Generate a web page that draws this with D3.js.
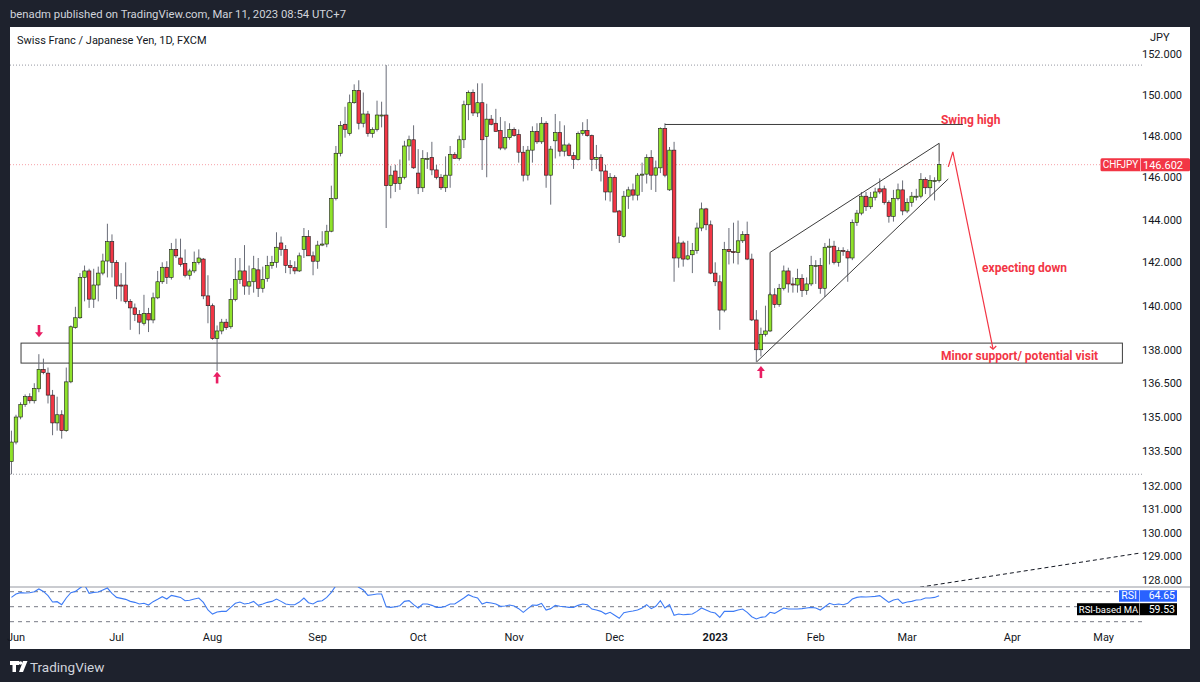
<!DOCTYPE html>
<meta charset="utf-8">
<style>
  body { margin: 0; background: #1e222d; }
  svg { display: block; }
  text { font-family: "Trebuchet MS", Roboto, sans-serif; }
  .wick { stroke: #6a6d78; stroke-width: 1; }
  .body { stroke: #1a1a1a; stroke-width: 0.6; }
  .axis text { font-size: 11px; fill: #131722; }
  .note { font-size: 12px; font-weight: bold; fill: #f23645; }
  .draw { fill: none; stroke: #3c3c3c; stroke-width: 1; }
</style>
<svg width="1200" height="682"></svg>
<script src="https://d3js.org/d3.v7.min.js"></script>
<script>

// daily candles [open, high, low, close], one array per month
var may22 = [[133.05,134.4,132.5,133.9]];
var jun22 = [
  [133.9,135.1,133.8,135.0],[135.0,135.65,134.9,135.55],[135.55,136.0,135.45,135.9],[135.9,136.05,135.6,135.72],
  [135.72,136.5,135.6,136.27],[136.25,137.8,136.1,137.12],[137.12,137.6,136.9,136.97],[136.95,137.2,135.6,135.97],
  [135.97,136.2,134.2,134.74],[134.74,135.9,134.4,135.1],[135.1,135.3,134.05,134.4],[134.4,137.2,134.35,136.56],
  [136.56,139.1,136.5,139.04],[139.0,139.95,138.95,139.45],[139.45,141.5,139.4,141.3],[141.3,141.85,140.2,141.6],
  [141.6,141.7,139.9,140.3],[140.3,141.7,139.9,140.95],[140.95,141.8,140.2,141.5],[141.5,142.4,141.4,142.06],
  [142.06,143.8,141.3,142.96],[142.96,143.3,141.3,142.0]];
var jul22 = [
  [142.0,142.1,140.3,140.9],[140.95,141.5,140.2,140.9],[140.95,142.0,140.1,140.2],[140.2,140.3,138.9,139.9],
  [139.9,140.1,139.3,139.6],[139.6,139.8,138.7,139.25],[139.2,140.5,139.1,139.65],[139.65,139.9,138.8,139.35],
  [139.35,140.6,139.2,140.36],[140.36,141.6,140.3,141.1],[141.1,142.0,141.0,141.77],[141.77,142.05,141.0,141.3],
  [141.3,142.9,141.2,142.6],[142.6,143.1,142.2,142.3],[142.2,143.1,141.8,141.9],[141.95,142.6,141.3,141.4],
  [141.4,141.7,141.2,141.6],[141.6,142.5,141.5,142.0],[142.0,142.6,141.9,142.2],[142.15,142.2,140.3,140.45],
  [140.45,141.4,139.2,140.0]];
var aug22 = [
  [140.0,140.1,138.45,138.5],[138.5,139.1,137.05,138.85],[138.85,139.4,138.7,139.25],[139.25,139.4,138.9,139.0],
  [139.04,140.8,138.95,140.28],[140.28,142.2,140.2,141.2],[141.2,142.2,141.0,141.6],[141.6,142.8,140.5,140.9],
  [140.9,141.85,140.5,141.1],[141.1,142.3,140.6,141.7],[141.65,142.2,140.4,140.8],[140.8,141.8,140.6,141.2],
  [141.25,142.3,141.1,141.85],[141.85,142.3,141.7,142.0],[142.0,143.4,141.75,142.7],[142.9,143.2,142.3,142.6],
  [142.6,142.8,141.5,141.85],[141.85,142.1,141.45,141.75],[141.75,142.05,141.45,141.6],[141.6,142.45,141.55,142.3],
  [142.6,143.6,142.2,143.2],[143.2,143.5,142.3,142.3],[142.3,142.5,141.4,142.05]];
var sep22 = [
  [142.05,143.0,141.7,142.8],[142.8,143.45,142.75,142.85],[142.85,143.75,142.7,143.45],[143.45,145.6,143.4,145.0],
  [145.0,147.5,144.9,147.15],[147.15,148.7,147.0,148.5],[148.55,149.4,147.9,148.3],[148.1,150.0,148.0,149.6],
  [149.6,150.5,149.55,150.2],[150.2,150.7,148.3,148.6],[148.6,150.1,148.4,149.05],[149.05,149.2,147.95,148.1],
  [148.1,148.4,147.9,148.3],[148.3,149.7,148.2,149.0],[149.0,149.65,148.4,149.0],[149.0,151.45,143.6,145.6],
  [145.6,146.55,145.0,146.1],[146.3,146.6,145.3,145.7],[145.7,146.85,145.4,146.0],[146.0,147.75,145.9,147.5],
  [147.5,148.0,146.8,147.8],[147.8,148.5,146.4,146.45]];
var oct22 = [
  [146.2,147.35,145.2,145.5],[145.5,147.3,145.3,146.9],[146.9,147.2,146.4,146.9],[146.95,147.7,146.1,146.35],
  [146.35,146.6,145.9,146.0],[146.0,146.15,145.4,145.5],[145.5,147.0,145.3,146.1],[146.1,147.5,145.5,147.1],
  [147.1,147.2,146.9,146.9],[146.9,148.0,146.8,147.8],[147.8,149.7,147.4,149.5],[149.5,150.2,148.75,150.1],
  [150.1,150.25,148.95,149.1],[149.1,150.55,148.9,149.6],[149.6,150.55,146.35,147.8],[147.95,149.55,146.0,148.8],
  [148.8,149.0,148.5,148.55],[148.6,149.3,148.2,148.2],[148.25,148.9,147.3,147.4],[147.4,148.7,147.3,147.9],
  [147.9,148.6,147.8,148.3]];
var nov22 = [
  [148.3,148.4,147.95,148.0],[148.05,148.3,146.7,147.2],[147.2,147.5,145.8,146.1],[146.1,147.5,145.85,147.3],
  [147.3,148.45,146.7,148.2],[148.2,148.6,147.6,147.7],[147.7,148.9,147.6,148.6],[148.6,148.7,145.5,146.1],
  [146.1,147.5,144.7,147.35],[147.75,149.05,146.9,148.15],[148.15,148.7,147.0,147.25],[147.25,148.5,147.0,147.55],
  [147.55,147.65,147.0,147.05],[147.05,147.2,146.4,146.85],[146.85,148.2,146.8,148.1],[148.1,148.65,148.0,148.25],
  [148.25,148.8,147.95,148.0],[148.0,148.05,146.3,146.85],[146.85,147.55,146.4,146.95],[146.95,147.1,145.8,146.3],
  [146.3,146.6,144.9,145.3],[145.3,146.2,144.85,146.0]];
var dec22 = [
  [146.0,146.1,144.35,144.35],[144.4,144.45,142.9,143.25],[143.2,145.35,143.15,145.1],[145.1,145.55,144.5,145.4],
  [145.4,145.7,144.9,145.15],[145.15,146.2,144.9,146.1],[146.1,146.7,145.3,146.15],[146.15,147.1,145.7,146.95],
  [146.95,147.3,145.4,146.1],[146.1,146.8,145.3,146.45],[146.45,148.4,146.2,148.35],[148.35,148.6,146.0,146.1],
  [145.4,147.45,145.35,147.3],[147.3,147.7,141.1,142.2],[142.2,143.2,141.75,142.9],[142.9,143.0,141.8,142.15],
  [142.15,143.0,142.1,142.3],[142.35,142.9,141.5,142.55],[142.55,143.85,142.4,143.6],[143.6,144.8,143.45,144.5],
  [144.5,144.55,143.5,143.75],[143.75,143.95,141.45,141.5]];
var jan23 = [
  [141.5,142.0,140.9,141.1],[141.1,141.4,138.9,139.8],[139.8,142.95,139.7,142.6],[142.6,143.6,141.9,142.5],
  [142.5,143.85,141.95,142.45],[142.45,143.95,141.9,143.0],[143.0,143.45,142.9,143.3],[143.3,143.9,142.1,142.15],
  [142.15,142.4,139.3,139.35],[139.35,139.8,137.45,138.0],[138.0,139.0,137.7,138.7],[138.7,140.0,138.6,138.85],
  [138.85,140.6,138.8,140.5],[140.5,140.8,139.9,140.05],[140.05,141.0,139.95,140.8],[140.8,141.85,140.7,141.6],
  [141.6,141.75,140.6,141.0],[141.0,141.3,140.6,140.95],[140.95,141.7,140.6,141.25],[141.25,141.45,140.4,140.7],
  [140.7,141.3,140.5,141.0],[141.0,142.3,140.9,141.85]];
var feb23 = [
  [141.85,142.1,141.0,141.85],[141.85,142.2,140.55,140.8],[140.8,142.9,140.4,142.7],[142.7,143.1,141.9,142.75],
  [142.75,143.0,141.9,142.0],[142.0,142.7,141.8,142.55],[142.55,142.7,142.3,142.5],[142.5,142.6,141.1,142.2],
  [142.2,144.0,142.1,143.85],[143.85,144.45,143.7,144.3],[144.3,145.3,144.2,145.1],[145.1,145.3,144.4,144.6],
  [144.6,145.3,144.5,145.05],[145.05,145.5,144.9,145.3],[145.45,145.95,145.2,145.3],[145.45,145.6,144.7,144.8],
  [144.8,144.9,143.85,144.15],[144.15,145.4,143.9,145.0],[145.0,145.7,144.9,145.4],[145.4,145.85,144.2,144.4]];
var mar23 = [
  [144.4,145.0,144.3,144.8],[144.8,145.3,144.6,145.1],[145.1,145.45,144.9,145.1],[145.1,146.2,145.0,145.9],
  [145.9,146.0,145.2,145.5],[145.5,146.1,145.1,145.85],[145.85,146.0,144.9,145.85],[145.85,146.75,145.75,146.602]];

// RSI(14), one value per candle from May 31 2022
var rsi = [
  62.4,66.9,68.7,68.2,68.7,70,73.6,70.4,64.7,56.2,56.7,52.7,61.6,68.7,70.4,74.9,79,67.8,69.1,69.6,72.2,74.9,
  67.8,62.4,61.1,59.8,57.1,55.8,53.6,54.5,52.2,56.7,59.8,63.3,60.2,65.1,63.8,62.4,58,58.5,60.2,61.6,55.8,
  45.6,40.2,42.9,43.8,43.8,49.1,54.5,56.2,53.6,54.5,57.1,51.8,53.6,55.8,57.1,60.2,57.1,53.6,52.7,52.7,56.2,61.6,55.3,
  53.6,57.1,58,62.4,69.1,78,84,85,84,82,75.8,72.2,65.1,66,66.9,66.9,50,49.1,50,
  51.3,57.1,58,52.7,48.3,53.6,53.6,51.8,49.1,49.1,50.5,53.6,53.6,57.6,61.6,66,63.3,61.6,53.6,55.8,54.9,53.6,50.5,50.9,52.2,
  50.9,47.4,42.5,47.4,52.2,51.8,54.5,45.6,47.4,51.8,50.5,50,49.1,49.1,51.8,53.6,52.7,46.9,45.6,43.8,40.2,42.5,38.5,
  34.5,42,43.3,44.2,45.6,48.3,52.7,47.4,50.5,58,48.3,52.7,38.5,40.2,39.3,39.8,40.2,43.8,48.3,45.6,42.9,41.6,
  35.8,43.8,43.8,43.8,45.6,46.9,42.5,36.7,33.6,35.8,36.7,42.5,41.1,44.7,48.3,46.9,46.9,46.9,47.4,48.3,49.1,
  48.3,45.6,50,54.5,52.7,53.6,52.7,54.5,60.2,62.4,63.3,62.9,63.3,63.8,64.7,60.2,55.8,58.9,60.2,54.5,
  56.2,57.1,58.9,59.3,61.6,61.6,62.4,64.65];
var rsiMA = 59.53;

var priceTicks = [152, 150, 148, 146, 144, 142, 140, 138, 136.5, 135, 133.5, 132, 131, 130, 129, 128];
var symbol = "CHFJPY";

var svg = d3.select("svg");
var green = "#8fe22b", red = "#f23645", pink = "#e91e63";

// white chart panel
svg.append("rect").attr("x", 10).attr("y", 27).attr("width", 1180).attr("height", 622).attr("fill", "#fff");

svg.append("text").attr("x", 10).attr("y", 18).attr("fill", "#d1d4dc").style("font-size", "11.3px")
    .text("benadm published on TradingView.com, Mar 11, 2023 08:54 UTC+7");
svg.append("text").attr("x", 17).attr("y", 44).attr("fill", "#131722").style("font-size", "11px")
    .text("Swiss Franc / Japanese Yen, 1D, FXCM");

var bars = [].concat(may22, jun22, jul22, aug22, sep22, oct22, nov22, dec22, jan23, feb23, mar23)
    .map(function(d, i) { return {k: i, o: d[0], h: d[1], l: d[2], c: d[3], rsi: rsi[i]}; });

// trading days (weekdays) starting May 31 2022
var days = d3.timeDays(new Date(2022, 4, 31), new Date(2023, 5, 1)).filter(function(d) { return d.getDay() % 6 !== 0; });

var step = 4.57;
var x = d3.scaleLinear().domain([0, 1]).range([11.43, 11.43 + step]);
var y = d3.scaleLog().domain([128, 152]).range([580, 54]);
var yr = d3.scaleLinear().domain([30, 70]).range([621.7, 591.7]);

var defs = svg.append("defs");
defs.append("clipPath").attr("id", "cp").append("rect").attr("x", 10).attr("y", 27).attr("width", 1132).attr("height", 560);
defs.append("clipPath").attr("id", "cr").append("rect").attr("x", 10).attr("y", 587).attr("width", 1132).attr("height", 41);

var plot = svg.append("g").attr("clip-path", "url(#cp)");

// range high / low and last price lines
var hi = d3.max(bars, function(d) { return d.h; }), lo = d3.min(bars, function(d) { return d.l; });
var last = bars[bars.length - 1].c;
[[hi, "#9598a1"], [lo, "#9598a1"], [last, "#f7a1a8"]].forEach(function(p) {
  plot.append("line").attr("x1", 10).attr("x2", 1142).attr("y1", y(p[0])).attr("y2", y(p[0]))
      .attr("stroke", p[1]).attr("stroke-dasharray", "1,2");
});

// support zone
plot.append("rect").attr("class", "draw")
    .attr("x", x(2.1)).attr("width", x(243.1) - x(2.1))
    .attr("y", y(138.3)).attr("height", y(137.4) - y(138.3));

// candles
var cg = plot.append("g");
cg.selectAll(".wick").data(bars).join("line").attr("class", "wick")
    .attr("x1", function(d) { return x(d.k); }).attr("x2", function(d) { return x(d.k); })
    .attr("y1", function(d) { return y(d.h); }).attr("y2", function(d) { return y(d.l); });
cg.selectAll(".body").data(bars).join("rect").attr("class", "body")
    .attr("x", function(d) { return x(d.k) - 1.8; }).attr("width", 3.6)
    .attr("y", function(d) { return y(Math.max(d.o, d.c)); })
    .attr("height", function(d) { return Math.max(1, Math.abs(y(d.o) - y(d.c))); })
    .attr("fill", function(d) { return d.c >= d.o ? green : red; });

// drawings
var line = d3.line().x(function(d) { return x(d[0]); }).y(function(d) { return y(d[1]); });
plot.append("path").attr("class", "draw").attr("d", line([[143, 148.54], [208.2, 148.54]]));
plot.append("path").attr("class", "draw").attr("d", line([[163.1, 137.46], [205, 145.92]]));
plot.append("path").attr("class", "draw").attr("d", line([[166, 140.5], [166, 142.46], [203, 147.63], [203, 146.75]]));
plot.append("path").attr("fill", "none").attr("stroke", "#131722").attr("stroke-dasharray", "4,3")
    .attr("d", line([[198.8, 127.7], [246.9, 129.13]]));

// expected move
plot.append("path").attr("fill", "none").attr("stroke", red).attr("stroke-width", 1.2)
    .attr("d", line([[205, 146.5], [206, 147.22], [214.8, 138.03]]));
plot.append("path").attr("fill", "none").attr("stroke", red).attr("stroke-width", 1.2)
    .attr("d", line([[214.1, 138.15], [214.8, 138.03], [215.5, 138.17]]));

var notes = [
  {k: 203.4, p: 148.75, t: "Swing high"},
  {k: 212.4, p: 141.75, t: "expecting down"},
  {k: 203.4, p: 137.72, t: "Minor support/ potential visit"}
];
plot.selectAll(".note").data(notes).join("text").attr("class", "note")
    .attr("x", function(d) { return x(d.k); }).attr("y", function(d) { return y(d.p); })
    .attr("dy", "0.35em").text(function(d) { return d.t; });

// pink arrows at the swing points
var arrows = [{k: 6.03, from: 139.12, to: 138.57}, {k: 45, from: 136.49, to: 137.01}, {k: 164, from: 136.73, to: 137.27}];
arrows.forEach(function(a) {
  var x0 = x(a.k), y0 = y(a.from), y1 = y(a.to), dir = y1 > y0 ? 1 : -1;
  plot.append("line").attr("x1", x0).attr("x2", x0).attr("y1", y0).attr("y2", y1 - dir * 4)
      .attr("stroke", pink).attr("stroke-width", 2.6);
  plot.append("path").attr("fill", pink)
      .attr("d", "M" + (x0 - 4) + "," + (y1 - dir * 5) + "L" + (x0 + 4) + "," + (y1 - dir * 5) + "L" + x0 + "," + y1 + "Z");
});

// price axis
var ax = svg.append("g").attr("class", "axis").attr("transform", "translate(1182,0)")
    .call(d3.axisLeft(y).tickValues(priceTicks).tickSize(0).tickPadding(0).tickFormat(d3.format(".3f")));
ax.select(".domain").remove();
ax.selectAll("text").attr("text-anchor", "end").attr("fill", "#131722");
svg.append("text").attr("x", 1150).attr("y", 41).attr("fill", "#131722").style("font-size", "11px").text("JPY");

// last price label
var ly = y(last);
svg.append("rect").attr("x", 1100.5).attr("y", ly - 6.5).attr("width", 89.5).attr("height", 13).attr("rx", 1.5).attr("fill", red);
svg.append("line").attr("x1", 1140.5).attr("x2", 1140.5).attr("y1", ly - 6.5).attr("y2", ly + 6.5).attr("stroke", "#fff").attr("stroke-opacity", 0.6);
svg.append("text").attr("x", 1120.5).attr("y", ly).attr("dy", "0.36em").attr("text-anchor", "middle")
    .attr("fill", "#fff").style("font-size", "10px").text(symbol);
svg.append("text").attr("x", 1183).attr("y", ly).attr("dy", "0.36em").attr("text-anchor", "end")
    .attr("fill", "#fff").style("font-size", "11px").text(d3.format(".3f")(last));

// RSI pane
svg.append("line").attr("x1", 10).attr("x2", 1190).attr("y1", 587).attr("y2", 587).attr("stroke", "#9598a1");
var rg = svg.append("g").attr("clip-path", "url(#cr)");
[70, 50, 30].forEach(function(v) {
  rg.append("line").attr("x1", 10).attr("x2", 1142).attr("y1", yr(v)).attr("y2", yr(v))
      .attr("stroke", "#787b86").attr("stroke-dasharray", "4,4");
});
rg.append("path").attr("fill", "none").attr("stroke", "#3d7bf5").attr("stroke-width", 1.1)
    .attr("d", d3.line().x(function(d) { return x(d.k); }).y(function(d) { return yr(d.rsi); })(bars));

var lastRsi = rsi[rsi.length - 1];
svg.append("rect").attr("x", 1119).attr("y", yr(lastRsi) - 5.5).attr("width", 58).attr("height", 11.5).attr("fill", "#2962ff");
svg.append("line").attr("x1", 1139.5).attr("x2", 1139.5).attr("y1", yr(lastRsi) - 5.5).attr("y2", yr(lastRsi) + 6).attr("stroke", "#fff").attr("stroke-opacity", 0.6);
svg.append("text").attr("x", 1129).attr("y", yr(lastRsi)).attr("dy", "0.36em").attr("text-anchor", "middle")
    .attr("fill", "#fff").style("font-size", "10.5px").text("RSI");
svg.append("text").attr("x", 1175).attr("y", yr(lastRsi)).attr("dy", "0.36em").attr("text-anchor", "end")
    .attr("fill", "#fff").style("font-size", "10.5px").text(lastRsi.toFixed(2));
var my = yr(lastRsi) + 13.5;
svg.append("rect").attr("x", 1077).attr("y", my - 6).attr("width", 100).attr("height", 12).attr("fill", "#000");
svg.append("line").attr("x1", 1139.5).attr("x2", 1139.5).attr("y1", my - 6).attr("y2", my + 6).attr("stroke", "#fff").attr("stroke-opacity", 0.6);
svg.append("text").attr("x", 1108.5).attr("y", my).attr("dy", "0.36em").attr("text-anchor", "middle")
    .attr("fill", "#fff").style("font-size", "9.5px").text("RSI-based MA");
svg.append("text").attr("x", 1175).attr("y", my).attr("dy", "0.36em").attr("text-anchor", "end")
    .attr("fill", "#fff").style("font-size", "10.5px").text(rsiMA.toFixed(2));

// time axis: first trading day of each month
var months = [];
days.forEach(function(d, i) {
  if (i > 0 && d.getMonth() !== days[i - 1].getMonth()) months.push({k: i, d: d});
});
svg.selectAll(".month").data(months).join("text").attr("class", "month")
    .attr("x", function(d) { return x(d.k); }).attr("y", 641).attr("text-anchor", "middle")
    .attr("fill", "#131722").style("font-size", "11px")
    .style("font-weight", function(d) { return d.d.getMonth() === 0 ? "bold" : null; })
    .text(function(d) { return d.d.getMonth() === 0 ? d3.timeFormat("%Y")(d.d) : d3.timeFormat("%b")(d.d); });

// footer logo
var logo = svg.append("g").attr("fill", "#fff");
logo.append("path").attr("d", "M10,661h9v4h-3v7h-3.5v-7h-2.5z");
logo.append("circle").attr("cx", 20.5).attr("cy", 663).attr("r", 1.8);
logo.append("path").attr("d", "M23,661h4.5l-4.5,11h-4z");
svg.append("text").attr("x", 30).attr("y", 672).attr("fill", "#d1d4dc").style("font-size", "13.5px").text("TradingView");

</script>
